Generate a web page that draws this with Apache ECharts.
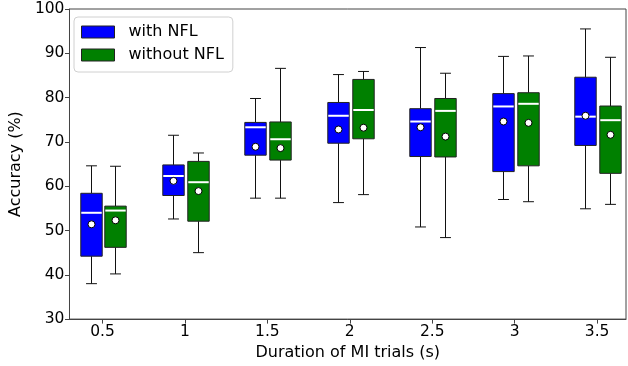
<!DOCTYPE html>
<html>
<head>
<meta charset="utf-8">
<script src="https://cdn.jsdelivr.net/npm/echarts@6/dist/echarts.min.js"></script>
<style>html,body{margin:0;padding:0;background:#fff}#c{width:628px;height:366px}</style>
</head>
<body>
<div id="c"></div>
<script>
const categories = [0.5, 1, 1.5, 2, 2.5, 3, 3.5];
const yTicks = [30, 40, 50, 60, 70, 80, 90, 100];

const withMin  = [38.0, 52.6, 57.3, 56.3, 50.8, 57.0, 54.9];
const withQ1   = [44.2, 57.9, 67.0, 69.7, 66.7, 63.3, 69.2];
const withMed  = [54.0, 62.3, 73.3, 75.9, 74.6, 78.0, 75.7];
const withQ3   = [58.4, 64.8, 74.4, 78.9, 77.5, 80.9, 84.6];
const withMax  = [64.6, 71.5, 79.8, 85.2, 91.3, 89.3, 95.5];
const withMean = [51.4, 61.2, 68.9, 72.8, 73.3, 74.6, 75.9];

const withoutMin  = [40.2, 45.0, 57.3, 58.1, 48.4, 56.5, 55.9];
const withoutQ1   = [46.2, 52.1, 65.9, 70.7, 66.6, 64.6, 62.9];
const withoutMed  = [54.5, 60.9, 70.6, 77.2, 77.0, 78.6, 74.9];
const withoutQ3   = [55.5, 65.6, 74.5, 84.1, 79.8, 81.1, 78.1];
const withoutMax  = [64.5, 67.5, 86.6, 85.9, 85.5, 89.4, 89.1];
const withoutMean = [52.3, 58.9, 68.6, 73.2, 71.2, 74.3, 71.6];

const FONT = 'DejaVu Sans';
const BOX_W = 0.13;
const CAP_W = 0.066;

function build(mn, q1, md, q3, mx, mean) {
  return categories.map((c, i) => [c, mn[i], q1[i], md[i], q3[i], mx[i], mean[i]]);
}

function makeRender(offset, color) {
  return function (params, api) {
    const x = api.value(0) + offset;
    const pMin = api.coord([x, api.value(1)]);
    const pQ1 = api.coord([x, api.value(2)]);
    const pMed = api.coord([x, api.value(3)]);
    const pQ3 = api.coord([x, api.value(4)]);
    const pMax = api.coord([x, api.value(5)]);
    const pMean = api.coord([x, api.value(6)]);
    const hw = api.size([BOX_W, 0])[0] / 2;
    const cw = api.size([CAP_W, 0])[0] / 2;
    const cx = Math.round(pMed[0]) + 0.5;
    const line = (x1, y1, x2, y2, stroke, lw) => ({
      type: 'line', shape: { x1, y1, x2, y2 }, style: { stroke, lineWidth: lw }
    });
    return {
      type: 'group',
      children: [
        line(cx, pQ3[1], cx, pMax[1], '#111', 1),
        line(cx, pQ1[1], cx, pMin[1], '#111', 1),
        line(cx - cw, pMax[1], cx + cw, pMax[1], '#111', 1),
        line(cx - cw, pMin[1], cx + cw, pMin[1], '#111', 1),
        {
          type: 'rect',
          shape: { x: cx - hw, y: pQ3[1], width: hw * 2, height: pQ1[1] - pQ3[1] },
          style: { fill: color, stroke: '#222', lineWidth: 1 }
        },
        line(cx - hw + 0.5, pMed[1], cx + hw - 0.5, pMed[1], '#fff', 2),
        {
          type: 'circle',
          shape: { cx: cx, cy: pMean[1], r: 3.5 },
          style: { fill: '#fff', stroke: '#000', lineWidth: 1 }
        }
      ]
    };
  };
}

const chart = echarts.init(document.getElementById('c'), null, { renderer: 'canvas' });
chart.setOption({
  animation: false,
  textStyle: { fontFamily: FONT },
  grid: {
    left: 66, right: 2, top: 9, bottom: 44,
    show: true, borderColor: '#444', borderWidth: 1, backgroundColor: 'transparent'
  },
  legend: {
    orient: 'vertical',
    left: 74, top: 17,
    padding: [7, 9, 9, 7],
    backgroundColor: '#fff',
    borderColor: '#d0d0d0',
    borderWidth: 1,
    borderRadius: 4,
    itemWidth: 33, itemHeight: 12, itemGap: 7,
    icon: 'rect',
    itemStyle: { borderColor: '#222', borderWidth: 1 },
    textStyle: { fontFamily: FONT, fontSize: 16, color: '#000', lineHeight: 16, padding: [0, 0, 0, 9] },
    data: ['with NFL', 'without NFL']
  },
  xAxis: {
    type: 'value',
    min: 0.3, max: 3.675,
    name: 'Duration of MI trials (s)',
    nameLocation: 'middle',
    nameGap: 20,
    nameTextStyle: { fontFamily: FONT, fontSize: 16, color: '#000' },
    axisLine: { show: true, onZero: false, lineStyle: { color: '#444', width: 1 } },
    axisTick: { show: true, length: 4.5, inside: false, customValues: categories, lineStyle: { color: '#444' } },
    axisLabel: { customValues: categories, fontFamily: FONT, fontSize: 15.5, color: '#000', margin: 5 },
    splitLine: { show: false }
  },
  yAxis: {
    type: 'value',
    min: 30, max: 100, interval: 10,
    name: 'Accuracy (%)',
    nameLocation: 'middle',
    nameGap: 41,
    nameTextStyle: { fontFamily: FONT, fontSize: 16, color: '#000' },
    axisLine: { show: true, lineStyle: { color: '#444', width: 1 } },
    axisTick: { show: true, length: 4.5, lineStyle: { color: '#444' } },
    axisLabel: { fontFamily: FONT, fontSize: 15.5, color: '#000', margin: 5,
      formatter: v => (yTicks.indexOf(v) >= 0 ? String(v) : '') },
    splitLine: { show: false }
  },
  series: [
    {
      name: 'with NFL',
      type: 'custom',
      renderItem: makeRender(-0.072, '#0000ff'),
      itemStyle: { color: '#0000ff', borderColor: '#222', borderWidth: 1 },
      encode: { x: 0, y: [1, 2, 3, 4, 5, 6] },
      data: build(withMin, withQ1, withMed, withQ3, withMax, withMean),
      z: 2
    },
    {
      name: 'without NFL',
      type: 'custom',
      renderItem: makeRender(0.078, '#008000'),
      itemStyle: { color: '#008000', borderColor: '#222', borderWidth: 1 },
      encode: { x: 0, y: [1, 2, 3, 4, 5, 6] },
      data: build(withoutMin, withoutQ1, withoutMed, withoutQ3, withoutMax, withoutMean),
      z: 2
    }
  ]
});
</script>
</body>
</html>
